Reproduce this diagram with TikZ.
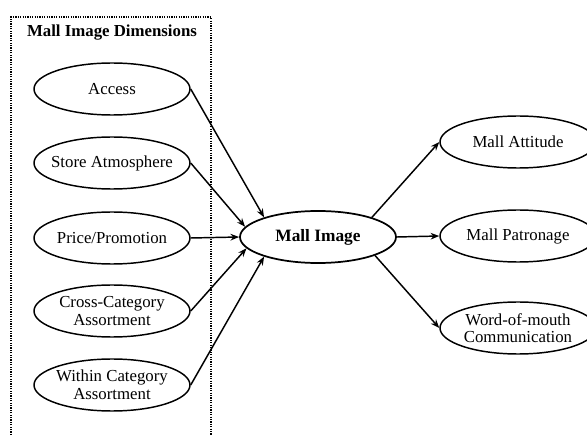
\documentclass[tikz,border=0pt]{standalone}
\usepackage{fontspec}
\setmainfont{Liberation Serif}
\usetikzlibrary{shapes.geometric,arrows.meta}
\begin{document}
\begin{tikzpicture}[x=0.75pt,y=-0.75pt,
  oval/.style={draw,ellipse,line width=1.1pt,minimum width=117pt,minimum height=39pt,inner xsep=-12pt,inner ysep=-2pt,align=center,font=\fontsize{12.6}{13.2}\selectfont},
  link/.style={line width=1.1pt,-{Stealth[length=6.5pt,width=5pt]}}]
\useasboundingbox (0,0) rectangle (587,435);
\draw[line width=1.2pt,dash pattern=on 0.9pt off 0.9pt] (11,435) -- (11,17) -- (211,17) -- (211,435);
\node[font=\bfseries\fontsize{12.6}{13}\selectfont] (title) at (112,33) {Mall Image Dimensions};
\node[oval] (acc) at (112,89) {Access};
\node[oval] (atm) at (112,163) {Store Atmosphere};
\node[oval] (pri) at (112,238) {Price/Promotion};
\node[oval] (cro) at (112,311) {Cross-Category\\Assortment};
\node[oval] (wit) at (112,385) {Within Category\\Assortment};
\node[oval,line width=1.3pt,font=\bfseries\fontsize{13}{14}\selectfont] (mi) at (318,237) {Mall Image};
\node[oval] (att) at (518,142) {Mall Attitude};
\node[oval] (pat) at (518,236) {Mall Patronage};
\node[oval] (wom) at (518,328) {Word-of-mouth\\Communication};
\draw[link] (acc.east) -- (mi.160);
\draw[link] (atm.east) -- (mi.172);
\draw[link] (pri.east) -- (mi.180);
\draw[link] (cro.east) -- (mi.189);
\draw[link] (wit.east) -- (mi.200);
\draw[link] (mi.20) -- (att.west);
\draw[link] (mi.0) -- (pat.west);
\draw[link] (mi.-18) -- (wom.west);
\end{tikzpicture}
\end{document}
